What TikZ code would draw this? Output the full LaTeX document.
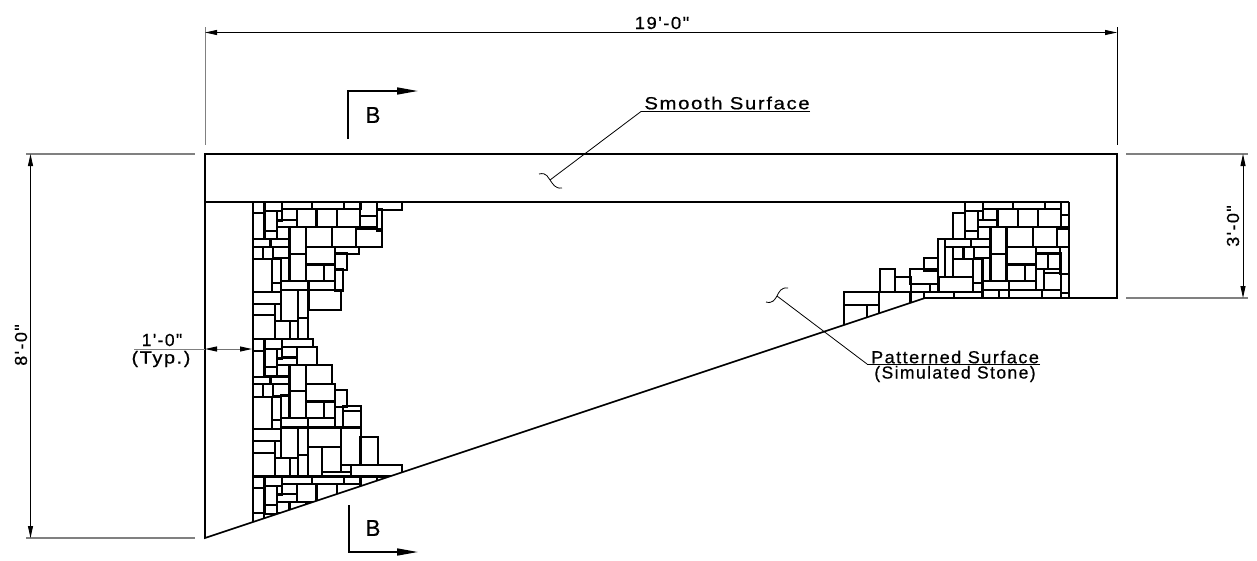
\documentclass[tikz,border=0pt]{standalone}
\usepackage{fontspec}
\usepackage{graphicx}
\usetikzlibrary{arrows.meta}
\newfontfamily\cadfont[FakeStretch=1.14,LetterSpace=9,FakeBold=0.6]{Liberation Sans}
\tikzset{
  outline/.style={line width=1.7pt,black,line join=miter},
  stone/.style={line width=1.5pt,black,line join=miter},
  ext/.style={line width=1.3pt,black!50},
  dimline/.style={line width=0.9pt,black,{Triangle[length=12pt,width=5pt]}-{Triangle[length=12pt,width=5pt]}},
  leader/.style={line width=0.8pt,black},
  under/.style={line width=1pt,black},
  secline/.style={line width=1.6pt,black},
  txt/.style={inner sep=0pt,font=\cadfont\fontsize{17.5}{20}\selectfont},
  btxt/.style={inner sep=0pt,font=\cadfont\fontsize{23}{26}\selectfont}
}
\newcommand{\sx}[2]{\scalebox{#1}[1]{#2}}
% each edge is snapped to a 3-unit grid (one pixel of the picture) so that neighbouring stones share one line
\newcommand{\drawstones}[1]{%
  \foreach \a/\b/\c/\d in {#1}{\draw[stone] ({3*round((\a-2.2)/3)},{3*round((\b-2.2)/3)}) rectangle ({3*round((\c+2.2)/3)},{3*round((\d+2.2)/3)});}}
\begin{document}
\begin{tikzpicture}[x=1pt,y=-1pt]
\useasboundingbox (0,0) rectangle (1257,560);
\fill[white] (0,0) rectangle (1257,560);
% stones, left wall
\begin{scope}
\clip (200,202) -- (1069.8,202) -- (1069.8,298) -- (925,298) -- (205,538) -- cycle;
\begin{scope}[xshift=190pt,yshift=-190pt,x=0.33333pt,y=-0.33333pt]
\drawstones{190/36/221/68,226/36/275/62,278/36/365/55,369/36/461/55,465/36/510/55,512/36/560/77,564/36/633/57,
190/72/221/145,226/66/259/120,262/66/275/90,278/60/318/87,262/92/318/110,322/60/378/110,381/60/438/110,442/60/508/110,512/80/560/110,564/60/574/120,
226/124/259/146,262/114/297/146,300/114/345/190,349/114/425/168,429/114/497/168,500/120/575/168,
190/150/240/169,243/150/297/169,190/173/216/206,220/173/248/206,252/173/297/203,349/172/434/221,438/172/505/190,438/192/470/238,
190/210/244/304,248/210/271/276,276/207/297/270,300/193/345/270,349/226/400/270,405/226/434/270,438/240/458/300,248/280/271/304,276/274/353/298,358/274/434/298,
190/308/271/339,276/303/323/391,327/303/353/382,358/303/452/359,190/343/254/374,258/343/271/391,190/378/254/445,258/394/298/445,302/394/323/445,327/386/353/445}
\end{scope}
\begin{scope}[xshift=190pt,yshift=-360pt,x=0.33333pt,y=-0.33333pt]
\drawstones{190/-60/221/-28,226/-60/275/-36,278/-60/367/-42,190/-24/221/48,226/-30/259/20,262/-30/275/-6,278/-36/318/-10,262/-4/318/12,322/-36/378/12,
226/24/259/46,262/16/297/46,300/16/345/92,349/16/425/70,
190/52/240/71,243/52/297/71,190/75/216/108,220/75/248/108,252/75/297/105,349/74/434/123,438/92/470/138,300/95/345/172,349/126/400/172,405/126/434/172,
190/112/244/206,248/112/271/178,276/108/297/172,248/182/271/206,276/176/353/200,357/176/434/200,438/142/458/200,460/140/510/150,460/154/510/200,
190/210/271/241,276/205/323/292,327/205/353/284,357/205/450/260,454/205/510/312,512/232/562/312,190/245/254/276,258/245/271/292,190/281/254/347,258/296/298/347,302/296/323/347,327/288/353/347,357/264/395/347,399/264/450/333,399/337/482/347,454/318/482/333,486/318/633/347,
190/352/221/381,226/352/275/376,278/352/365/370,369/352/461/370,465/352/510/370,512/352/560/400,564/352/633/372,
190/385/221/456,190/460/221/500,226/380/259/433,262/380/275/402,278/374/318/400,262/404/318/424,322/374/378/424,381/374/438/424,442/374/508/424,226/437/259/460,262/428/297/458,300/428/345/470}
\end{scope}
% stones, right part
\begin{scope}[xshift=830pt,yshift=-190pt,x=0.33333pt,y=-0.33333pt]
\drawstones{406/36/456/62,461/36/548/55,552/36/643/55,647/36/692/55,695/36/714/72,
370/70/404/145,408/66/442/120,446/66/458/87,461/60/501/87,446/92/501/108,504/60/561/110,565/60/621/110,625/60/692/110,695/77/714/110,
408/124/442/146,446/114/480/146,483/114/527/190,532/114/607/168,611/114/680/168,684/120/714/168,
327/148/344/258,348/150/422/169,426/150/480/169,348/173/368/258,372/173/398/206,403/173/431/206,435/173/480/203,532/172/616/221,620/172/688/190,692/172/714/250,620/192/652/236,656/192/690/236,
283/205/323/240,372/210/427/258,431/210/456/276,459/207/480/270,483/193/527/270,532/226/584/270,588/226/616/270,620/240/640/298,643/240/690/248,643/252/690/298,695/254/714/308,
152/240/194/305,197/262/240/305,243/240/323/280,245/284/298/305,303/284/323/305,328/262/427/305,431/280/456/305,459/274/535/298,540/274/616/298,
43/307/145/344,148/307/240/370,243/309/280/340,285/309/369/322,373/309/456/322,459/303/505/322,509/303/534/322,538/303/634/322,638/303/690/322,695/312/714/322,
43/348/110/420,114/348/145/400}
\end{scope}
\end{scope}
% outline
\draw[outline] (205,154) -- (1117,154) -- (1117,298) -- (925,298) -- (205,538) -- cycle;
\draw[outline] (205,202) -- (1069,202);
% named dimension points
\coordinate (tl) at (205,32.5); \coordinate (tr) at (1117,32.5);
\coordinate (lt) at (30.5,154); \coordinate (lb) at (30.5,538);
\coordinate (rt) at (1243,154); \coordinate (rb) at (1243,298);
\coordinate (ml) at (205,349); \coordinate (mr) at (252,349); \coordinate (mo) at (134,349);
% extension lines
\draw[ext,line width=1pt] (205,27) -- (205,145);
\draw[line width=0.8pt] (1117,27) -- (1117,145);
\draw[ext] (26,154) -- (195,154);
\draw[ext] (26,538) -- (195,538);
\draw[ext] (1126,154) -- (1248,154);
\draw[ext] (1126,298) -- (1248,298);
% dimensions
\draw[dimline] (tl) -- (tr);
\draw[dimline] (lt) -- (lb);
\draw[dimline] (rt) -- (rb);
\draw[ext,line width=1pt] (mo) -- (ml);
\draw[line width=1pt,black!55,{Triangle[length=12pt,width=5pt,black]}-{Triangle[length=12pt,width=5pt,black]}] (ml) -- (mr);
\node[txt] (dimTop) at (662,23) {\sx{0.93}{19'-0"}};
\node[txt,rotate=90] (dimLeft) at (21,345) {\sx{0.9}{8'-0"}};
\node[txt,rotate=90] (dimRight) at (1233,226) {\sx{0.9}{3'-0"}};
\node[txt] (dimOne) at (162,340) {\sx{0.88}{1'-0"}};
\node[txt] (dimTyp) at (161,359) {(Typ.)};
% section marks
\coordinate (s1a) at (348,139); \coordinate (s1b) at (348,91); \coordinate (s1c) at (418,91);
\coordinate (s2a) at (349,505); \coordinate (s2b) at (349,552); \coordinate (s2c) at (418,552);
\draw[secline,-{Triangle[length=21pt,width=7pt]}] (s1a) -- (s1b) -- (s1c);
\draw[secline,-{Triangle[length=21pt,width=7pt]}] (s2a) -- (s2b) -- (s2c);
\node[btxt] (b1) at (373,115) {\sx{0.85}{B}};
\node[btxt] (b2) at (373,528) {\sx{0.85}{B}};
% leaders
\node[txt] (smooth) at (727,103) {\sx{1.02}{Smooth Surface}};
\coordinate (su1) at (641,111.5); \coordinate (su2) at (810,111.5); \coordinate (sb) at (550,180);
\draw[under] (su2) -- (su1);
\draw[leader] (su1) -- (sb);
\draw[leader] (539,174) .. controls (547,172) and (548,178) .. (sb) .. controls (553,184) and (555,189) .. (562,188);
\node[txt] (pattern) at (955,357) {\sx{0.91}{Patterned Surface}};
\node[txt] (simul) at (955,374) {\sx{0.88}{(Simulated Stone)}};
\coordinate (pu1) at (867,364); \coordinate (pu2) at (1040,364); \coordinate (pb) at (777,296);
\draw[under] (pu2) -- (pu1);
\draw[leader] (pu1) -- (pb);
\draw[leader] (766,302) .. controls (773,304) and (775,299) .. (pb) .. controls (779,292) and (781,287) .. (788,288);
\end{tikzpicture}
\end{document}
